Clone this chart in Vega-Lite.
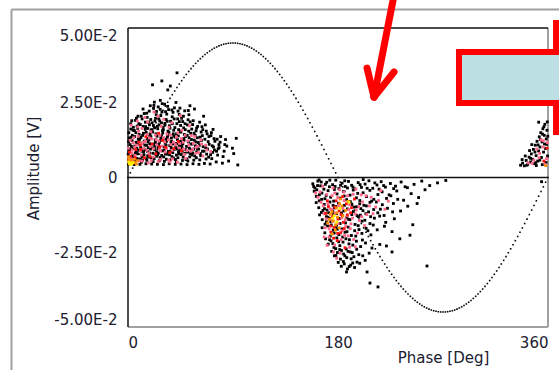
{
"$schema": "https://vega.github.io/schema/vega-lite/v6.json",
"autosize": {"type": "none"},
"padding": {"left": 128, "top": 28, "right": 11, "bottom": 43},
"width": 420,
"height": 299,
"background": "white",
"config": {"view": {"stroke": null}},
"encoding": {
  "x": {"field": "ph", "type": "quantitative", "scale": {"domain": [0, 360], "nice": false, "zero": false},
    "axis": {"values": [0, 180, 360], "title": "Phase [Deg]", "grid": false, "domain": false, "ticks": false, "tickSize": 0, "labelFlush": true, "labelPadding": 8, "labelFont": "DejaVu Sans", "labelFontSize": 15, "labelColor": "#202030", "titleFont": "DejaVu Sans", "titleFontSize": 15, "titleFontWeight": "normal", "titleColor": "#202030", "titleX": 315, "titleY": 30, "titleBaseline": "middle", "titleAlign": "center"}},
  "y": {"field": "amp", "type": "quantitative", "scale": {"domain": [-0.05, 0.05], "nice": false, "zero": false},
    "axis": {"values": [-0.05, -0.025, 0, 0.025, 0.05], "title": "Amplitude [V]", "grid": false, "domain": false, "ticks": false, "tickSize": 0, "labelFlush": true, "labelPadding": 11, "labelFont": "DejaVu Sans", "labelFontSize": 15, "labelColor": "#202030",
      "labelExpr": "datum.value == 0 ? '0' : (datum.value < 0 ? '-' : '') + (abs(datum.value) > 0.04 ? '5.00E-2' : '2.50E-2')",
      "titleFont": "DejaVu Sans", "titleFontSize": 15, "titleFontWeight": "normal", "titleColor": "#202030", "titleX": -95, "titleY": 140, "titleBaseline": "middle", "titleAlign": "center", "titleAngle": -90}}
},
"layer": [
  {
    "data": {"values": [
      {"ph": -99.86, "amp": 0.0562, "ph2": -99.86, "amp2": -0.07},
      {"ph": -99.86, "amp": 0.0562, "ph2": 385, "amp2": 0.0562},
      {"ph": 0, "amp": -0.05, "ph2": 360, "amp2": -0.05},
      {"ph": 360, "amp": 0.05, "ph2": 360, "amp2": -0.05}
    ]},
    "mark": {"type": "rule", "color": "#a0a0a0", "strokeWidth": 2},
    "encoding": {"x2": {"field": "ph2"}, "y2": {"field": "amp2"}}
  },
  {
    "data": {"values": [
      {"ph": 0, "amp": 0.05, "ph2": 360, "amp2": 0.05},
      {"ph": 0, "amp": 0.05, "ph2": 0, "amp2": -0.05},
      {"ph": 0, "amp": 0, "ph2": 360, "amp2": 0}
    ]},
    "mark": {"type": "rule", "color": "#111111", "strokeWidth": 1.5},
    "encoding": {"x2": {"field": "ph2"}, "y2": {"field": "amp2"}}
  },
  {
    "data": {"values": [
      {"ph":0,"amp":0},{"ph":2,"amp":0.00157},{"ph":4,"amp":0.00314},{"ph":6,"amp":0.0047},{"ph":8,"amp":0.00626},{"ph":10,"amp":0.00781},{"ph":12,"amp":0.00936},{"ph":14,"amp":0.01089},{"ph":16,"amp":0.0124},{"ph":18,"amp":0.01391},{"ph":20,"amp":0.01539},{"ph":22,"amp":0.01686},{"ph":24,"amp":0.0183},{"ph":26,"amp":0.01973},{"ph":28,"amp":0.02113},{"ph":30,"amp":0.0225},{"ph":32,"amp":0.02385},{"ph":34,"amp":0.02516},{"ph":36,"amp":0.02645},{"ph":38,"amp":0.0277},{"ph":40,"amp":0.02893},{"ph":42,"amp":0.03011},{"ph":44,"amp":0.03126},{"ph":46,"amp":0.03237},{"ph":48,"amp":0.03344},{"ph":50,"amp":0.03447},{"ph":52,"amp":0.03546},{"ph":54,"amp":0.03641},{"ph":56,"amp":0.03731},{"ph":58,"amp":0.03816},{"ph":60,"amp":0.03897},{"ph":62,"amp":0.03973},{"ph":64,"amp":0.04045},{"ph":66,"amp":0.04111},{"ph":68,"amp":0.04172},{"ph":70,"amp":0.04229},{"ph":72,"amp":0.0428},{"ph":74,"amp":0.04326},{"ph":76,"amp":0.04366},{"ph":78,"amp":0.04402},{"ph":80,"amp":0.04432},{"ph":82,"amp":0.04456},{"ph":84,"amp":0.04475},{"ph":86,"amp":0.04489},{"ph":88,"amp":0.04497},{"ph":90,"amp":0.045},
      {"ph":92,"amp":0.04497},{"ph":94,"amp":0.04489},{"ph":96,"amp":0.04475},{"ph":98,"amp":0.04456},{"ph":100,"amp":0.04432},{"ph":102,"amp":0.04402},{"ph":104,"amp":0.04366},{"ph":106,"amp":0.04326},{"ph":108,"amp":0.0428},{"ph":110,"amp":0.04229},{"ph":112,"amp":0.04172},{"ph":114,"amp":0.04111},{"ph":116,"amp":0.04045},{"ph":118,"amp":0.03973},{"ph":120,"amp":0.03897},{"ph":122,"amp":0.03816},{"ph":124,"amp":0.03731},{"ph":126,"amp":0.03641},{"ph":128,"amp":0.03546},{"ph":130,"amp":0.03447},{"ph":132,"amp":0.03344},{"ph":134,"amp":0.03237},{"ph":136,"amp":0.03126},{"ph":138,"amp":0.03011},{"ph":140,"amp":0.02893},{"ph":142,"amp":0.0277},{"ph":144,"amp":0.02645},{"ph":146,"amp":0.02516},{"ph":148,"amp":0.02385},{"ph":150,"amp":0.0225},{"ph":152,"amp":0.02113},{"ph":154,"amp":0.01973},{"ph":156,"amp":0.0183},{"ph":158,"amp":0.01686},{"ph":160,"amp":0.01539},{"ph":162,"amp":0.01391},{"ph":164,"amp":0.0124},{"ph":166,"amp":0.01089},{"ph":168,"amp":0.00936},{"ph":170,"amp":0.00781},{"ph":172,"amp":0.00626},{"ph":174,"amp":0.0047},{"ph":176,"amp":0.00314},{"ph":178,"amp":0.00157},{"ph":180,"amp":0},
      {"ph":182,"amp":-0.00157},{"ph":184,"amp":-0.00314},{"ph":186,"amp":-0.0047},{"ph":188,"amp":-0.00626},{"ph":190,"amp":-0.00781},{"ph":192,"amp":-0.00936},{"ph":194,"amp":-0.01089},{"ph":196,"amp":-0.0124},{"ph":198,"amp":-0.01391},{"ph":200,"amp":-0.01539},{"ph":202,"amp":-0.01686},{"ph":204,"amp":-0.0183},{"ph":206,"amp":-0.01973},{"ph":208,"amp":-0.02113},{"ph":210,"amp":-0.0225},{"ph":212,"amp":-0.02385},{"ph":214,"amp":-0.02516},{"ph":216,"amp":-0.02645},{"ph":218,"amp":-0.0277},{"ph":220,"amp":-0.02893},{"ph":222,"amp":-0.03011},{"ph":224,"amp":-0.03126},{"ph":226,"amp":-0.03237},{"ph":228,"amp":-0.03344},{"ph":230,"amp":-0.03447},{"ph":232,"amp":-0.03546},{"ph":234,"amp":-0.03641},{"ph":236,"amp":-0.03731},{"ph":238,"amp":-0.03816},{"ph":240,"amp":-0.03897},{"ph":242,"amp":-0.03973},{"ph":244,"amp":-0.04045},{"ph":246,"amp":-0.04111},{"ph":248,"amp":-0.04172},{"ph":250,"amp":-0.04229},{"ph":252,"amp":-0.0428},{"ph":254,"amp":-0.04326},{"ph":256,"amp":-0.04366},{"ph":258,"amp":-0.04402},{"ph":260,"amp":-0.04432},{"ph":262,"amp":-0.04456},{"ph":264,"amp":-0.04475},{"ph":266,"amp":-0.04489},{"ph":268,"amp":-0.04497},{"ph":270,"amp":-0.045},
      {"ph":272,"amp":-0.04497},{"ph":274,"amp":-0.04489},{"ph":276,"amp":-0.04475},{"ph":278,"amp":-0.04456},{"ph":280,"amp":-0.04432},{"ph":282,"amp":-0.04402},{"ph":284,"amp":-0.04366},{"ph":286,"amp":-0.04326},{"ph":288,"amp":-0.0428},{"ph":290,"amp":-0.04229},{"ph":292,"amp":-0.04172},{"ph":294,"amp":-0.04111},{"ph":296,"amp":-0.04045},{"ph":298,"amp":-0.03973},{"ph":300,"amp":-0.03897},{"ph":302,"amp":-0.03816},{"ph":304,"amp":-0.03731},{"ph":306,"amp":-0.03641},{"ph":308,"amp":-0.03546},{"ph":310,"amp":-0.03447},{"ph":312,"amp":-0.03344},{"ph":314,"amp":-0.03237},{"ph":316,"amp":-0.03126},{"ph":318,"amp":-0.03011},{"ph":320,"amp":-0.02893},{"ph":322,"amp":-0.0277},{"ph":324,"amp":-0.02645},{"ph":326,"amp":-0.02516},{"ph":328,"amp":-0.02385},{"ph":330,"amp":-0.0225},{"ph":332,"amp":-0.02113},{"ph":334,"amp":-0.01973},{"ph":336,"amp":-0.0183},{"ph":338,"amp":-0.01686},{"ph":340,"amp":-0.01539},{"ph":342,"amp":-0.01391},{"ph":344,"amp":-0.0124},{"ph":346,"amp":-0.01089},{"ph":348,"amp":-0.00936},{"ph":350,"amp":-0.00781},{"ph":352,"amp":-0.00626},{"ph":354,"amp":-0.0047},{"ph":356,"amp":-0.00314},{"ph":358,"amp":-0.00157},{"ph":360,"amp":0}
    ]},
    "mark": {"type": "square", "size": 2.5, "color": "#000000", "opacity": 1}
  },
  {
    "data": {"values": [
      {"ph":0.4,"amp":0.0045,"lvl":0},{"ph":1.2,"amp":0.0052,"lvl":0},{"ph":2.1,"amp":0.006,"lvl":0},{"ph":3.0,"amp":0.0071,"lvl":0},{"ph":0.9,"amp":0.0088,"lvl":0},{"ph":4.2,"amp":0.0097,"lvl":0},{"ph":1.8,"amp":0.011,"lvl":0},{"ph":3.5,"amp":0.0123,"lvl":0},{"ph":2.6,"amp":0.0135,"lvl":0},{"ph":0.7,"amp":0.015,"lvl":0},{"ph":4.6,"amp":0.0168,"lvl":0},{"ph":2.3,"amp":0.018,"lvl":0},{"ph":3.9,"amp":0.0047,"lvl":0},{"ph":4.8,"amp":0.0058,"lvl":0},{"ph":1.5,"amp":0.0066,"lvl":0},
      {"ph":5.3,"amp":0.0043,"lvl":0},{"ph":6.1,"amp":0.0055,"lvl":0},{"ph":7.4,"amp":0.0064,"lvl":0},{"ph":8.2,"amp":0.0079,"lvl":0},{"ph":9.1,"amp":0.0091,"lvl":0},{"ph":5.8,"amp":0.0105,"lvl":0},{"ph":6.9,"amp":0.0118,"lvl":0},{"ph":8.8,"amp":0.0129,"lvl":0},{"ph":9.6,"amp":0.0144,"lvl":0},{"ph":5.5,"amp":0.0157,"lvl":0},{"ph":7.8,"amp":0.0172,"lvl":0},{"ph":6.4,"amp":0.0191,"lvl":0},{"ph":8.5,"amp":0.0205,"lvl":0},{"ph":9.9,"amp":0.0062,"lvl":0},{"ph":7.1,"amp":0.0084,"lvl":0},
      {"ph":10.2,"amp":0.0044,"lvl":0},{"ph":11.5,"amp":0.0051,"lvl":0},{"ph":12.3,"amp":0.0069,"lvl":0},{"ph":13.7,"amp":0.0076,"lvl":0},{"ph":14.4,"amp":0.0093,"lvl":0},{"ph":10.9,"amp":0.0101,"lvl":0},{"ph":12.8,"amp":0.0116,"lvl":0},{"ph":11.1,"amp":0.0134,"lvl":0},{"ph":13.2,"amp":0.0148,"lvl":0},{"ph":14.8,"amp":0.0161,"lvl":0},{"ph":10.5,"amp":0.0177,"lvl":0},{"ph":12.1,"amp":0.0196,"lvl":0},{"ph":13.9,"amp":0.0214,"lvl":0},{"ph":11.8,"amp":0.0088,"lvl":0},{"ph":14.1,"amp":0.0122,"lvl":0},{"ph":12.6,"amp":0.0058,"lvl":0},
      {"ph":15.4,"amp":0.0046,"lvl":0},{"ph":16.2,"amp":0.0057,"lvl":0},{"ph":17.8,"amp":0.0068,"lvl":0},{"ph":18.5,"amp":0.0082,"lvl":0},{"ph":19.3,"amp":0.0095,"lvl":0},{"ph":15.9,"amp":0.0108,"lvl":0},{"ph":17.1,"amp":0.0119,"lvl":0},{"ph":16.7,"amp":0.0131,"lvl":0},{"ph":18.9,"amp":0.0146,"lvl":0},{"ph":19.8,"amp":0.0159,"lvl":0},{"ph":15.2,"amp":0.017,"lvl":0},{"ph":17.5,"amp":0.0185,"lvl":0},{"ph":16.4,"amp":0.0201,"lvl":0},{"ph":18.2,"amp":0.0222,"lvl":0},{"ph":19.1,"amp":0.024,"lvl":0},{"ph":16.9,"amp":0.0073,"lvl":0},{"ph":18.7,"amp":0.0113,"lvl":0},
      {"ph":20.3,"amp":0.0045,"lvl":0},{"ph":21.6,"amp":0.0053,"lvl":0},{"ph":22.4,"amp":0.0063,"lvl":0},{"ph":23.8,"amp":0.0077,"lvl":0},{"ph":24.5,"amp":0.0086,"lvl":0},{"ph":20.9,"amp":0.0099,"lvl":0},{"ph":22.1,"amp":0.0112,"lvl":0},{"ph":23.3,"amp":0.0126,"lvl":0},{"ph":24.9,"amp":0.0138,"lvl":0},{"ph":21.2,"amp":0.0152,"lvl":0},{"ph":22.8,"amp":0.0166,"lvl":0},{"ph":20.6,"amp":0.0183,"lvl":0},{"ph":23.6,"amp":0.0198,"lvl":0},{"ph":24.2,"amp":0.021,"lvl":0},{"ph":21.9,"amp":0.0231,"lvl":0},{"ph":22.6,"amp":0.0252,"lvl":0},{"ph":21.0,"amp":0.031,"lvl":0},{"ph":24.7,"amp":0.0071,"lvl":0},{"ph":23.0,"amp":0.0104,"lvl":0},
      {"ph":25.2,"amp":0.0044,"lvl":0},{"ph":26.8,"amp":0.0056,"lvl":0},{"ph":27.5,"amp":0.0067,"lvl":0},{"ph":28.9,"amp":0.0074,"lvl":0},{"ph":29.4,"amp":0.0089,"lvl":0},{"ph":25.7,"amp":0.0096,"lvl":0},{"ph":26.3,"amp":0.0111,"lvl":0},{"ph":27.9,"amp":0.0124,"lvl":0},{"ph":28.4,"amp":0.0137,"lvl":0},{"ph":29.8,"amp":0.0149,"lvl":0},{"ph":25.5,"amp":0.0163,"lvl":0},{"ph":26.6,"amp":0.0176,"lvl":0},{"ph":27.2,"amp":0.0189,"lvl":0},{"ph":28.1,"amp":0.0207,"lvl":0},{"ph":29.1,"amp":0.0219,"lvl":0},{"ph":25.9,"amp":0.0236,"lvl":0},{"ph":27.7,"amp":0.0258,"lvl":0},{"ph":29.0,"amp":0.0323,"lvl":0},{"ph":26.1,"amp":0.0082,"lvl":0},{"ph":28.6,"amp":0.0141,"lvl":0},
      {"ph":30.4,"amp":0.0043,"lvl":0},{"ph":31.2,"amp":0.0054,"lvl":0},{"ph":32.9,"amp":0.0061,"lvl":0},{"ph":33.5,"amp":0.0078,"lvl":0},{"ph":34.6,"amp":0.0087,"lvl":0},{"ph":30.8,"amp":0.0102,"lvl":0},{"ph":31.9,"amp":0.0115,"lvl":0},{"ph":32.4,"amp":0.0128,"lvl":0},{"ph":33.9,"amp":0.014,"lvl":0},{"ph":34.3,"amp":0.0155,"lvl":0},{"ph":30.1,"amp":0.0168,"lvl":0},{"ph":31.6,"amp":0.0181,"lvl":0},{"ph":32.7,"amp":0.0194,"lvl":0},{"ph":33.2,"amp":0.0212,"lvl":0},{"ph":34.8,"amp":0.0227,"lvl":0},{"ph":31.4,"amp":0.0245,"lvl":0},{"ph":32.1,"amp":0.0079,"lvl":0},{"ph":33.7,"amp":0.0133,"lvl":0},{"ph":34.1,"amp":0.0293,"lvl":0},
      {"ph":35.3,"amp":0.0046,"lvl":0},{"ph":36.1,"amp":0.0059,"lvl":0},{"ph":37.7,"amp":0.007,"lvl":0},{"ph":38.4,"amp":0.0083,"lvl":0},{"ph":39.5,"amp":0.0094,"lvl":0},{"ph":35.8,"amp":0.0107,"lvl":0},{"ph":36.9,"amp":0.0117,"lvl":0},{"ph":37.2,"amp":0.0132,"lvl":0},{"ph":38.8,"amp":0.0146,"lvl":0},{"ph":39.2,"amp":0.0158,"lvl":0},{"ph":35.5,"amp":0.0173,"lvl":0},{"ph":36.5,"amp":0.0188,"lvl":0},{"ph":37.9,"amp":0.0203,"lvl":0},{"ph":38.6,"amp":0.0218,"lvl":0},{"ph":39.8,"amp":0.0233,"lvl":0},{"ph":36.3,"amp":0.0306,"lvl":0},{"ph":39.0,"amp":0.0065,"lvl":0},{"ph":37.4,"amp":0.0121,"lvl":0},
      {"ph":40.5,"amp":0.0044,"lvl":0},{"ph":41.3,"amp":0.0052,"lvl":0},{"ph":42.8,"amp":0.0066,"lvl":0},{"ph":43.6,"amp":0.0079,"lvl":0},{"ph":44.2,"amp":0.0091,"lvl":0},{"ph":40.9,"amp":0.01,"lvl":0},{"ph":41.7,"amp":0.0114,"lvl":0},{"ph":42.3,"amp":0.0127,"lvl":0},{"ph":43.1,"amp":0.0139,"lvl":0},{"ph":44.7,"amp":0.0153,"lvl":0},{"ph":40.2,"amp":0.0167,"lvl":0},{"ph":41.9,"amp":0.018,"lvl":0},{"ph":42.6,"amp":0.0196,"lvl":0},{"ph":43.9,"amp":0.0211,"lvl":0},{"ph":44.5,"amp":0.0232,"lvl":0},{"ph":41.1,"amp":0.0251,"lvl":0},{"ph":42.0,"amp":0.035,"lvl":0},{"ph":43.3,"amp":0.0085,"lvl":0},
      {"ph":45.4,"amp":0.0045,"lvl":0},{"ph":46.7,"amp":0.0057,"lvl":0},{"ph":47.3,"amp":0.0068,"lvl":0},{"ph":48.8,"amp":0.0081,"lvl":0},{"ph":49.5,"amp":0.0093,"lvl":0},{"ph":45.9,"amp":0.0106,"lvl":0},{"ph":46.2,"amp":0.0118,"lvl":0},{"ph":47.8,"amp":0.013,"lvl":0},{"ph":48.3,"amp":0.0144,"lvl":0},{"ph":49.1,"amp":0.016,"lvl":0},{"ph":45.1,"amp":0.0174,"lvl":0},{"ph":46.9,"amp":0.0187,"lvl":0},{"ph":47.5,"amp":0.0205,"lvl":0},{"ph":48.6,"amp":0.0223,"lvl":0},{"ph":49.8,"amp":0.006,"lvl":0},{"ph":46.4,"amp":0.0099,"lvl":0},
      {"ph":50.6,"amp":0.0043,"lvl":0},{"ph":51.3,"amp":0.0055,"lvl":0},{"ph":52.9,"amp":0.0069,"lvl":0},{"ph":53.4,"amp":0.008,"lvl":0},{"ph":54.1,"amp":0.0092,"lvl":0},{"ph":50.2,"amp":0.0104,"lvl":0},{"ph":51.8,"amp":0.0119,"lvl":0},{"ph":52.4,"amp":0.0133,"lvl":0},{"ph":53.7,"amp":0.0148,"lvl":0},{"ph":54.6,"amp":0.0162,"lvl":0},{"ph":50.9,"amp":0.0176,"lvl":0},{"ph":51.5,"amp":0.0193,"lvl":0},{"ph":52.2,"amp":0.021,"lvl":0},{"ph":53.1,"amp":0.024,"lvl":0},{"ph":54.8,"amp":0.0075,"lvl":0},
      {"ph":55.7,"amp":0.0046,"lvl":0},{"ph":56.4,"amp":0.0058,"lvl":0},{"ph":57.2,"amp":0.0072,"lvl":0},{"ph":58.9,"amp":0.0086,"lvl":0},{"ph":59.3,"amp":0.0097,"lvl":0},{"ph":55.2,"amp":0.0112,"lvl":0},{"ph":56.8,"amp":0.0125,"lvl":0},{"ph":57.6,"amp":0.0141,"lvl":0},{"ph":58.3,"amp":0.0156,"lvl":0},{"ph":59.7,"amp":0.0171,"lvl":0},{"ph":55.9,"amp":0.019,"lvl":0},{"ph":57.0,"amp":0.0229,"lvl":0},{"ph":58.6,"amp":0.0066,"lvl":0},
      {"ph":60.8,"amp":0.0044,"lvl":0},{"ph":61.5,"amp":0.0059,"lvl":0},{"ph":62.3,"amp":0.0073,"lvl":0},{"ph":63.9,"amp":0.0088,"lvl":0},{"ph":64.4,"amp":0.0103,"lvl":0},{"ph":60.3,"amp":0.0117,"lvl":0},{"ph":61.9,"amp":0.0135,"lvl":0},{"ph":62.7,"amp":0.0152,"lvl":0},{"ph":63.4,"amp":0.017,"lvl":0},{"ph":64.8,"amp":0.0205,"lvl":0},{"ph":62.0,"amp":0.008,"lvl":0},
      {"ph":65.5,"amp":0.0047,"lvl":0},{"ph":66.9,"amp":0.0062,"lvl":0},{"ph":67.4,"amp":0.0078,"lvl":0},{"ph":68.2,"amp":0.0095,"lvl":0},{"ph":69.6,"amp":0.0111,"lvl":0},{"ph":65.9,"amp":0.0128,"lvl":0},{"ph":67.8,"amp":0.0146,"lvl":0},{"ph":66.3,"amp":0.0176,"lvl":0},{"ph":69.1,"amp":0.0068,"lvl":0},
      {"ph":70.4,"amp":0.0045,"lvl":0},{"ph":71.8,"amp":0.0063,"lvl":0},{"ph":72.6,"amp":0.0084,"lvl":0},{"ph":73.3,"amp":0.0102,"lvl":0},{"ph":74.5,"amp":0.0121,"lvl":0},{"ph":71.1,"amp":0.014,"lvl":0},{"ph":72.9,"amp":0.0161,"lvl":0},{"ph":74.1,"amp":0.0092,"lvl":0},
      {"ph":75.6,"amp":0.0052,"lvl":0},{"ph":76.8,"amp":0.0075,"lvl":0},{"ph":77.3,"amp":0.0096,"lvl":0},{"ph":78.9,"amp":0.0118,"lvl":0},{"ph":79.4,"amp":0.0137,"lvl":0},{"ph":77.9,"amp":0.011,"lvl":0},
      {"ph":80.9,"amp":0.0048,"lvl":0},{"ph":82.4,"amp":0.0088,"lvl":0},{"ph":83.6,"amp":0.0127,"lvl":0},{"ph":84.7,"amp":0.0105,"lvl":0},
      {"ph":86.2,"amp":0.0055,"lvl":0},{"ph":89.5,"amp":0.0098,"lvl":0},{"ph":92.8,"amp":0.0131,"lvl":0},{"ph":90.6,"amp":0.008,"lvl":0},{"ph":94.1,"amp":0.0042,"lvl":0},
      {"ph":0.2,"amp":0.0078,"lvl":0},{"ph":1.4,"amp":0.0095,"lvl":0},{"ph":2.9,"amp":0.0104,"lvl":0},{"ph":3.7,"amp":0.0141,"lvl":0},{"ph":4.4,"amp":0.0158,"lvl":0},{"ph":0.5,"amp":0.012,"lvl":0},{"ph":1.0,"amp":0.0132,"lvl":0},{"ph":2.4,"amp":0.0162,"lvl":0},{"ph":3.2,"amp":0.019,"lvl":0},{"ph":4.0,"amp":0.0073,"lvl":0},
      {"ph":5.1,"amp":0.0069,"lvl":0},{"ph":6.3,"amp":0.0082,"lvl":0},{"ph":7.6,"amp":0.0097,"lvl":0},{"ph":8.0,"amp":0.0112,"lvl":0},{"ph":9.4,"amp":0.0124,"lvl":0},{"ph":5.7,"amp":0.0137,"lvl":0},{"ph":6.7,"amp":0.015,"lvl":0},{"ph":8.3,"amp":0.0164,"lvl":0},{"ph":9.3,"amp":0.018,"lvl":0},{"ph":7.2,"amp":0.0198,"lvl":0},
      {"ph":10.7,"amp":0.006,"lvl":0},{"ph":11.9,"amp":0.0073,"lvl":0},{"ph":13.4,"amp":0.0085,"lvl":0},{"ph":14.6,"amp":0.0108,"lvl":0},{"ph":10.1,"amp":0.0129,"lvl":0},{"ph":12.5,"amp":0.0141,"lvl":0},{"ph":13.0,"amp":0.0171,"lvl":0},{"ph":14.9,"amp":0.0185,"lvl":0},{"ph":11.3,"amp":0.0205,"lvl":0},{"ph":12.9,"amp":0.0229,"lvl":0},
      {"ph":15.7,"amp":0.0063,"lvl":0},{"ph":16.6,"amp":0.0088,"lvl":0},{"ph":17.3,"amp":0.01,"lvl":0},{"ph":18.0,"amp":0.0126,"lvl":0},{"ph":19.6,"amp":0.0137,"lvl":0},{"ph":15.6,"amp":0.0151,"lvl":0},{"ph":17.0,"amp":0.0164,"lvl":0},{"ph":18.4,"amp":0.0176,"lvl":0},{"ph":19.5,"amp":0.0194,"lvl":0},{"ph":16.0,"amp":0.0215,"lvl":0},
      {"ph":20.1,"amp":0.0066,"lvl":0},{"ph":21.3,"amp":0.0081,"lvl":0},{"ph":22.9,"amp":0.0093,"lvl":0},{"ph":23.5,"amp":0.0117,"lvl":0},{"ph":24.0,"amp":0.0146,"lvl":0},{"ph":20.5,"amp":0.016,"lvl":0},{"ph":21.8,"amp":0.0174,"lvl":0},{"ph":23.1,"amp":0.0189,"lvl":0},{"ph":24.4,"amp":0.0221,"lvl":0},{"ph":22.2,"amp":0.0241,"lvl":0},
      {"ph":25.4,"amp":0.0077,"lvl":0},{"ph":26.0,"amp":0.0103,"lvl":0},{"ph":27.0,"amp":0.0118,"lvl":0},{"ph":28.2,"amp":0.013,"lvl":0},{"ph":29.6,"amp":0.0157,"lvl":0},{"ph":25.1,"amp":0.0171,"lvl":0},{"ph":26.4,"amp":0.0196,"lvl":0},{"ph":28.7,"amp":0.0183,"lvl":0},{"ph":27.6,"amp":0.0228,"lvl":0},{"ph":29.3,"amp":0.0247,"lvl":0},
      {"ph":30.6,"amp":0.0069,"lvl":0},{"ph":31.0,"amp":0.0091,"lvl":0},{"ph":32.6,"amp":0.0108,"lvl":0},{"ph":33.0,"amp":0.0121,"lvl":0},{"ph":34.4,"amp":0.0147,"lvl":0},{"ph":30.3,"amp":0.016,"lvl":0},{"ph":31.7,"amp":0.0175,"lvl":0},{"ph":33.6,"amp":0.0188,"lvl":0},{"ph":32.2,"amp":0.022,"lvl":0},{"ph":34.0,"amp":0.0238,"lvl":0},
      {"ph":35.6,"amp":0.0076,"lvl":0},{"ph":36.7,"amp":0.0089,"lvl":0},{"ph":37.0,"amp":0.01,"lvl":0},{"ph":38.2,"amp":0.0112,"lvl":0},{"ph":39.3,"amp":0.0139,"lvl":0},{"ph":35.1,"amp":0.0151,"lvl":0},{"ph":36.0,"amp":0.0165,"lvl":0},{"ph":38.0,"amp":0.018,"lvl":0},{"ph":39.6,"amp":0.0196,"lvl":0},{"ph":37.6,"amp":0.0226,"lvl":0},
      {"ph":40.7,"amp":0.006,"lvl":0},{"ph":41.5,"amp":0.0075,"lvl":0},{"ph":42.1,"amp":0.0095,"lvl":0},{"ph":43.8,"amp":0.0106,"lvl":0},{"ph":44.9,"amp":0.0121,"lvl":0},{"ph":40.4,"amp":0.0135,"lvl":0},{"ph":41.6,"amp":0.0146,"lvl":0},{"ph":43.4,"amp":0.016,"lvl":0},{"ph":44.0,"amp":0.0187,"lvl":0},{"ph":42.9,"amp":0.0222,"lvl":0},
      {"ph":45.6,"amp":0.0077,"lvl":0},{"ph":46.5,"amp":0.0088,"lvl":0},{"ph":47.0,"amp":0.0112,"lvl":0},{"ph":48.0,"amp":0.0124,"lvl":0},{"ph":49.3,"amp":0.0137,"lvl":0},{"ph":45.3,"amp":0.0152,"lvl":0},{"ph":47.7,"amp":0.0166,"lvl":0},{"ph":48.9,"amp":0.018,"lvl":0},{"ph":46.0,"amp":0.0198,"lvl":0},
      {"ph":50.4,"amp":0.0062,"lvl":0},{"ph":51.1,"amp":0.0085,"lvl":0},{"ph":52.6,"amp":0.0098,"lvl":0},{"ph":53.9,"amp":0.0112,"lvl":0},{"ph":54.4,"amp":0.0127,"lvl":0},{"ph":50.7,"amp":0.0141,"lvl":0},{"ph":52.0,"amp":0.0155,"lvl":0},{"ph":53.3,"amp":0.0186,"lvl":0},{"ph":51.7,"amp":0.0224,"lvl":0},
      {"ph":55.5,"amp":0.0082,"lvl":0},{"ph":56.2,"amp":0.0095,"lvl":0},{"ph":57.8,"amp":0.0106,"lvl":0},{"ph":58.1,"amp":0.0119,"lvl":0},{"ph":59.5,"amp":0.0133,"lvl":0},{"ph":56.6,"amp":0.0148,"lvl":0},{"ph":58.8,"amp":0.0165,"lvl":0},{"ph":55.4,"amp":0.0177,"lvl":0},
      {"ph":60.6,"amp":0.0095,"lvl":0},{"ph":61.2,"amp":0.0108,"lvl":0},{"ph":62.9,"amp":0.0124,"lvl":0},{"ph":63.7,"amp":0.014,"lvl":0},{"ph":64.1,"amp":0.016,"lvl":0},{"ph":61.4,"amp":0.0185,"lvl":0},
      {"ph":65.2,"amp":0.0088,"lvl":0},{"ph":66.6,"amp":0.01,"lvl":0},{"ph":68.7,"amp":0.012,"lvl":0},{"ph":69.4,"amp":0.0137,"lvl":0},{"ph":67.1,"amp":0.0155,"lvl":0},
      {"ph":70.8,"amp":0.0076,"lvl":0},{"ph":72.2,"amp":0.0106,"lvl":0},{"ph":73.8,"amp":0.013,"lvl":0},{"ph":71.5,"amp":0.015,"lvl":0},
      {"ph":75.9,"amp":0.0088,"lvl":0},{"ph":78.1,"amp":0.01,"lvl":0},{"ph":76.4,"amp":0.0128,"lvl":0},
      {"ph":81.5,"amp":0.007,"lvl":0},{"ph":83.0,"amp":0.011,"lvl":0},
      {"ph":336.5,"amp":0.0041,"lvl":0},{"ph":338.2,"amp":0.0048,"lvl":0},{"ph":339.7,"amp":0.0039,"lvl":0},{"ph":341.3,"amp":0.0057,"lvl":0},{"ph":342.6,"amp":0.0044,"lvl":0},{"ph":343.8,"amp":0.0068,"lvl":0},{"ph":344.9,"amp":0.0052,"lvl":0},{"ph":345.7,"amp":0.0079,"lvl":0},{"ph":346.8,"amp":0.0061,"lvl":0},{"ph":347.5,"amp":0.0094,"lvl":0},{"ph":348.3,"amp":0.0046,"lvl":0},{"ph":349.1,"amp":0.0108,"lvl":0},{"ph":349.8,"amp":0.0073,"lvl":0},{"ph":350.6,"amp":0.0121,"lvl":0},{"ph":351.2,"amp":0.0055,"lvl":0},{"ph":351.9,"amp":0.0089,"lvl":0},{"ph":352.5,"amp":0.0136,"lvl":0},{"ph":353.1,"amp":0.0102,"lvl":0},{"ph":353.8,"amp":0.015,"lvl":0},{"ph":354.4,"amp":0.0067,"lvl":0},{"ph":354.9,"amp":0.0119,"lvl":0},{"ph":355.6,"amp":0.0163,"lvl":0},{"ph":356.2,"amp":0.0085,"lvl":0},{"ph":356.8,"amp":0.0141,"lvl":0},{"ph":357.3,"amp":0.0178,"lvl":0},{"ph":357.9,"amp":0.0097,"lvl":0},{"ph":358.5,"amp":0.0129,"lvl":0},{"ph":359.1,"amp":0.0158,"lvl":0},{"ph":359.6,"amp":0.0072,"lvl":0},{"ph":352.0,"amp":0.0185,"lvl":0},{"ph":355.1,"amp":0.0043,"lvl":0},{"ph":358.2,"amp":0.005,"lvl":0},{"ph":340.5,"amp":0.0072,"lvl":0},{"ph":346.1,"amp":0.011,"lvl":0},{"ph":350.0,"amp":0.004,"lvl":0},{"ph":344.2,"amp":0.009,"lvl":0},{"ph":357.0,"amp":0.0112,"lvl":0},{"ph":359.4,"amp":0.0186,"lvl":0},{"ph":354.5,"amp":-0.0014,"lvl":0},
      {"ph":337.8,"amp":0.006,"lvl":0},{"ph":341.9,"amp":0.0041,"lvl":0},{"ph":345.1,"amp":0.0064,"lvl":0},{"ph":348.8,"amp":0.0085,"lvl":0},{"ph":351.5,"amp":0.0109,"lvl":0},{"ph":353.5,"amp":0.0127,"lvl":0},{"ph":355.3,"amp":0.0145,"lvl":0},{"ph":356.5,"amp":0.017,"lvl":0},{"ph":358.7,"amp":0.0111,"lvl":0},{"ph":359.8,"amp":0.0138,"lvl":0},{"ph":353.0,"amp":0.0058,"lvl":0},{"ph":349.5,"amp":0.005,"lvl":0},
      {"ph":158.4,"amp":-0.0021,"lvl":0},{"ph":160.2,"amp":-0.0035,"lvl":0},{"ph":162.7,"amp":-0.0012,"lvl":0},{"ph":165.1,"amp":-0.0028,"lvl":0},{"ph":167.9,"amp":-0.0039,"lvl":0},{"ph":170.3,"amp":-0.0016,"lvl":0},{"ph":172.6,"amp":-0.0031,"lvl":0},{"ph":175.4,"amp":-0.0024,"lvl":0},{"ph":178.1,"amp":-0.0009,"lvl":0},{"ph":180.8,"amp":-0.0037,"lvl":0},{"ph":183.5,"amp":-0.0019,"lvl":0},{"ph":186.2,"amp":-0.003,"lvl":0},{"ph":189.0,"amp":-0.0013,"lvl":0},{"ph":191.7,"amp":-0.0026,"lvl":0},{"ph":194.4,"amp":-0.0038,"lvl":0},{"ph":197.3,"amp":-0.0017,"lvl":0},{"ph":200.1,"amp":-0.0033,"lvl":0},{"ph":203.2,"amp":-0.0022,"lvl":0},{"ph":206.5,"amp":-0.0011,"lvl":0},{"ph":209.8,"amp":-0.0036,"lvl":0},{"ph":213.4,"amp":-0.0025,"lvl":0},{"ph":217.0,"amp":-0.0014,"lvl":0},{"ph":220.6,"amp":-0.0032,"lvl":0},{"ph":224.9,"amp":-0.002,"lvl":0},{"ph":229.3,"amp":-0.0029,"lvl":0},{"ph":234.1,"amp":-0.0015,"lvl":0},{"ph":239.5,"amp":-0.0034,"lvl":0},{"ph":245.2,"amp":-0.0023,"lvl":0},{"ph":251.8,"amp":-0.0012,"lvl":0},{"ph":258.6,"amp":-0.0027,"lvl":0},{"ph":265.3,"amp":-0.0018,"lvl":0},{"ph":272.4,"amp":-0.001,"lvl":0},{"ph":163.8,"amp":-0.0008,"lvl":0},{"ph":176.9,"amp":-0.004,"lvl":0},{"ph":188.1,"amp":-0.0035,"lvl":0},{"ph":201.6,"amp":-0.0007,"lvl":0},{"ph":215.2,"amp":-0.0039,"lvl":0},{"ph":227.7,"amp":-0.0037,"lvl":0},
      {"ph":159.6,"amp":-0.0046,"lvl":0},{"ph":161.4,"amp":-0.0063,"lvl":0},{"ph":163.9,"amp":-0.0078,"lvl":0},{"ph":166.2,"amp":-0.0052,"lvl":0},{"ph":168.8,"amp":-0.0071,"lvl":0},{"ph":171.5,"amp":-0.0044,"lvl":0},{"ph":173.7,"amp":-0.0066,"lvl":0},{"ph":176.3,"amp":-0.0079,"lvl":0},{"ph":179.2,"amp":-0.0055,"lvl":0},{"ph":181.9,"amp":-0.0069,"lvl":0},{"ph":184.6,"amp":-0.0047,"lvl":0},{"ph":187.4,"amp":-0.0074,"lvl":0},{"ph":190.3,"amp":-0.0059,"lvl":0},{"ph":193.1,"amp":-0.0042,"lvl":0},{"ph":195.8,"amp":-0.0068,"lvl":0},{"ph":198.7,"amp":-0.0077,"lvl":0},{"ph":201.5,"amp":-0.0051,"lvl":0},{"ph":204.4,"amp":-0.0064,"lvl":0},{"ph":207.3,"amp":-0.0043,"lvl":0},{"ph":210.7,"amp":-0.0073,"lvl":0},{"ph":214.2,"amp":-0.0057,"lvl":0},{"ph":217.8,"amp":-0.0048,"lvl":0},{"ph":221.6,"amp":-0.007,"lvl":0},{"ph":225.3,"amp":-0.0061,"lvl":0},{"ph":230.4,"amp":-0.0045,"lvl":0},{"ph":236.2,"amp":-0.0076,"lvl":0},{"ph":242.7,"amp":-0.0054,"lvl":0},{"ph":249.1,"amp":-0.0067,"lvl":0},{"ph":254.6,"amp":-0.0041,"lvl":0},{"ph":169.9,"amp":-0.006,"lvl":0},{"ph":185.3,"amp":-0.0062,"lvl":0},{"ph":196.9,"amp":-0.0053,"lvl":0},{"ph":208.9,"amp":-0.0079,"lvl":0},
      {"ph":161.3,"amp":-0.0084,"lvl":0},{"ph":163.5,"amp":-0.0101,"lvl":0},{"ph":165.8,"amp":-0.0117,"lvl":0},{"ph":168.2,"amp":-0.009,"lvl":0},{"ph":170.6,"amp":-0.0109,"lvl":0},{"ph":173.1,"amp":-0.0082,"lvl":0},{"ph":175.5,"amp":-0.0113,"lvl":0},{"ph":178.0,"amp":-0.0097,"lvl":0},{"ph":180.4,"amp":-0.0086,"lvl":0},{"ph":182.9,"amp":-0.0119,"lvl":0},{"ph":185.5,"amp":-0.0093,"lvl":0},{"ph":188.0,"amp":-0.0105,"lvl":0},{"ph":190.6,"amp":-0.0081,"lvl":0},{"ph":193.2,"amp":-0.0114,"lvl":0},{"ph":195.9,"amp":-0.0098,"lvl":0},{"ph":198.6,"amp":-0.0088,"lvl":0},{"ph":201.4,"amp":-0.0111,"lvl":0},{"ph":204.3,"amp":-0.0095,"lvl":0},{"ph":207.4,"amp":-0.0083,"lvl":0},{"ph":210.6,"amp":-0.0107,"lvl":0},{"ph":214.1,"amp":-0.0118,"lvl":0},{"ph":218.0,"amp":-0.0091,"lvl":0},{"ph":222.4,"amp":-0.0103,"lvl":0},{"ph":227.5,"amp":-0.0087,"lvl":0},{"ph":233.6,"amp":-0.0112,"lvl":0},{"ph":239.8,"amp":-0.0096,"lvl":0},{"ph":176.8,"amp":-0.0102,"lvl":0},{"ph":191.9,"amp":-0.0089,"lvl":0},
      {"ph":164.2,"amp":-0.0125,"lvl":0},{"ph":166.5,"amp":-0.0141,"lvl":0},{"ph":168.9,"amp":-0.0156,"lvl":0},{"ph":171.3,"amp":-0.0133,"lvl":0},{"ph":173.8,"amp":-0.0148,"lvl":0},{"ph":176.2,"amp":-0.0122,"lvl":0},{"ph":178.7,"amp":-0.0159,"lvl":0},{"ph":181.2,"amp":-0.0137,"lvl":0},{"ph":183.8,"amp":-0.0127,"lvl":0},{"ph":186.4,"amp":-0.0152,"lvl":0},{"ph":189.1,"amp":-0.014,"lvl":0},{"ph":191.8,"amp":-0.0124,"lvl":0},{"ph":194.6,"amp":-0.0157,"lvl":0},{"ph":197.5,"amp":-0.0131,"lvl":0},{"ph":200.6,"amp":-0.0146,"lvl":0},{"ph":203.9,"amp":-0.0121,"lvl":0},{"ph":207.4,"amp":-0.0154,"lvl":0},{"ph":211.2,"amp":-0.0136,"lvl":0},{"ph":215.7,"amp":-0.0129,"lvl":0},{"ph":220.9,"amp":-0.015,"lvl":0},{"ph":228.3,"amp":-0.0138,"lvl":0},{"ph":244.1,"amp":-0.0158,"lvl":0},{"ph":187.6,"amp":-0.0134,"lvl":0},{"ph":199.2,"amp":-0.0126,"lvl":0},
      {"ph":166.4,"amp":-0.0168,"lvl":0},{"ph":168.7,"amp":-0.0185,"lvl":0},{"ph":171.0,"amp":-0.0162,"lvl":0},{"ph":173.4,"amp":-0.0196,"lvl":0},{"ph":175.9,"amp":-0.0176,"lvl":0},{"ph":178.3,"amp":-0.0164,"lvl":0},{"ph":180.8,"amp":-0.0191,"lvl":0},{"ph":183.4,"amp":-0.0172,"lvl":0},{"ph":186.0,"amp":-0.0183,"lvl":0},{"ph":188.7,"amp":-0.0166,"lvl":0},{"ph":191.5,"amp":-0.0194,"lvl":0},{"ph":194.3,"amp":-0.0178,"lvl":0},{"ph":197.3,"amp":-0.0161,"lvl":0},{"ph":200.5,"amp":-0.0187,"lvl":0},{"ph":204.1,"amp":-0.017,"lvl":0},{"ph":208.2,"amp":-0.0192,"lvl":0},{"ph":213.6,"amp":-0.0175,"lvl":0},{"ph":219.8,"amp":-0.0163,"lvl":0},{"ph":226.3,"amp":-0.0181,"lvl":0},
      {"ph":169.3,"amp":-0.0205,"lvl":0},{"ph":171.6,"amp":-0.0223,"lvl":0},{"ph":174.0,"amp":-0.0212,"lvl":0},{"ph":176.5,"amp":-0.0234,"lvl":0},{"ph":179.0,"amp":-0.0202,"lvl":0},{"ph":181.6,"amp":-0.0228,"lvl":0},{"ph":184.3,"amp":-0.0216,"lvl":0},{"ph":187.0,"amp":-0.0239,"lvl":0},{"ph":189.8,"amp":-0.0208,"lvl":0},{"ph":192.7,"amp":-0.0226,"lvl":0},{"ph":195.8,"amp":-0.0213,"lvl":0},{"ph":199.4,"amp":-0.0231,"lvl":0},{"ph":203.6,"amp":-0.0219,"lvl":0},{"ph":209.1,"amp":-0.0236,"lvl":0},{"ph":215.8,"amp":-0.0224,"lvl":0},{"ph":183.0,"amp":-0.0244,"lvl":0},
      {"ph":174.6,"amp":-0.0247,"lvl":0},{"ph":176.9,"amp":-0.0262,"lvl":0},{"ph":179.5,"amp":-0.0251,"lvl":0},{"ph":182.1,"amp":-0.0273,"lvl":0},{"ph":184.8,"amp":-0.0256,"lvl":0},{"ph":187.5,"amp":-0.0268,"lvl":0},{"ph":190.4,"amp":-0.0249,"lvl":0},{"ph":193.6,"amp":-0.0265,"lvl":0},{"ph":197.8,"amp":-0.0258,"lvl":0},{"ph":203.3,"amp":-0.0277,"lvl":0},{"ph":206.7,"amp":-0.0253,"lvl":0},
      {"ph":180.2,"amp":-0.0284,"lvl":0},{"ph":182.8,"amp":-0.0297,"lvl":0},{"ph":185.4,"amp":-0.0289,"lvl":0},{"ph":188.1,"amp":-0.0306,"lvl":0},{"ph":190.9,"amp":-0.0293,"lvl":0},{"ph":194.2,"amp":-0.0301,"lvl":0},{"ph":198.6,"amp":-0.0287,"lvl":0},{"ph":187.3,"amp":-0.0316,"lvl":0},
      {"ph":207.4,"amp":-0.0353,"lvl":0},{"ph":214.3,"amp":-0.0366,"lvl":0},{"ph":256.3,"amp":-0.0296,"lvl":0},{"ph":241.7,"amp":-0.0193,"lvl":0},{"ph":226.3,"amp":-0.0249,"lvl":0},{"ph":204.9,"amp":-0.0316,"lvl":0},{"ph":196.3,"amp":-0.0283,"lvl":0},{"ph":233.0,"amp":-0.0205,"lvl":0},{"ph":221.5,"amp":-0.0229,"lvl":0},
      {"ph":159.1,"amp":-0.003,"lvl":0},{"ph":161.8,"amp":-0.0041,"lvl":0},{"ph":164.0,"amp":-0.0058,"lvl":0},{"ph":166.0,"amp":-0.0073,"lvl":0},{"ph":168.4,"amp":-0.0104,"lvl":0},{"ph":170.0,"amp":-0.0131,"lvl":0},{"ph":172.0,"amp":-0.0118,"lvl":0},{"ph":174.3,"amp":-0.0159,"lvl":0},{"ph":176.7,"amp":-0.0186,"lvl":0},{"ph":179.4,"amp":-0.0173,"lvl":0},{"ph":181.5,"amp":-0.0241,"lvl":0},{"ph":184.0,"amp":-0.0199,"lvl":0},{"ph":186.8,"amp":-0.0205,"lvl":0},{"ph":189.4,"amp":-0.0222,"lvl":0},{"ph":192.2,"amp":-0.0251,"lvl":0},{"ph":195.2,"amp":-0.0196,"lvl":0},{"ph":198.0,"amp":-0.0174,"lvl":0},{"ph":200.9,"amp":-0.0209,"lvl":0},{"ph":203.0,"amp":-0.0143,"lvl":0},{"ph":205.6,"amp":-0.0178,"lvl":0},{"ph":208.0,"amp":-0.0131,"lvl":0},{"ph":210.2,"amp":-0.0159,"lvl":0},{"ph":212.9,"amp":-0.0082,"lvl":0},{"ph":216.3,"amp":-0.0106,"lvl":0},{"ph":219.5,"amp":-0.0127,"lvl":0},{"ph":223.8,"amp":-0.0058,"lvl":0},{"ph":226.8,"amp":-0.0115,"lvl":0},{"ph":231.2,"amp":-0.0073,"lvl":0},{"ph":237.5,"amp":-0.0031,"lvl":0},{"ph":247.8,"amp":-0.0087,"lvl":0},
      {"ph":162.5,"amp":-0.0027,"lvl":0},{"ph":165.6,"amp":-0.0015,"lvl":0},{"ph":169.2,"amp":-0.0023,"lvl":0},{"ph":173.0,"amp":-0.0009,"lvl":0},{"ph":177.5,"amp":-0.003,"lvl":0},{"ph":182.2,"amp":-0.0026,"lvl":0},{"ph":185.8,"amp":-0.0011,"lvl":0},{"ph":192.8,"amp":-0.0032,"lvl":0},{"ph":198.9,"amp":-0.0024,"lvl":0},{"ph":205.0,"amp":-0.0036,"lvl":0},{"ph":211.6,"amp":-0.0018,"lvl":0},{"ph":219.1,"amp":-0.0027,"lvl":0},
      {"ph":167.1,"amp":-0.011,"lvl":0},{"ph":170.1,"amp":-0.0148,"lvl":0},{"ph":172.9,"amp":-0.0137,"lvl":0},{"ph":175.8,"amp":-0.0093,"lvl":0},{"ph":178.8,"amp":-0.0121,"lvl":0},{"ph":181.8,"amp":-0.0154,"lvl":0},{"ph":184.9,"amp":-0.0112,"lvl":0},{"ph":187.7,"amp":-0.0181,"lvl":0},{"ph":190.2,"amp":-0.0141,"lvl":0},{"ph":193.8,"amp":-0.0099,"lvl":0},{"ph":196.4,"amp":-0.0128,"lvl":0},{"ph":199.6,"amp":-0.0104,"lvl":0},{"ph":202.2,"amp":-0.0093,"lvl":0},{"ph":206.2,"amp":-0.0115,"lvl":0},
      {"ph":172.8,"amp":-0.0208,"lvl":0},{"ph":175.6,"amp":-0.0221,"lvl":0},{"ph":178.1,"amp":-0.0238,"lvl":0},{"ph":180.6,"amp":-0.0215,"lvl":0},{"ph":185.9,"amp":-0.0262,"lvl":0},{"ph":188.6,"amp":-0.0247,"lvl":0},{"ph":191.3,"amp":-0.0272,"lvl":0},{"ph":196.0,"amp":-0.024,"lvl":0},{"ph":201.2,"amp":-0.0262,"lvl":0},{"ph":184.6,"amp":-0.0281,"lvl":0},{"ph":189.6,"amp":-0.0298,"lvl":0},{"ph":178.2,"amp":-0.0261,"lvl":0},{"ph":192.6,"amp":-0.0286,"lvl":0},
      {"ph":1.6,"amp":0.0064,"lvl":1},{"ph":3.3,"amp":0.0082,"lvl":1},{"ph":5.9,"amp":0.0102,"lvl":1},{"ph":8.7,"amp":0.0139,"lvl":1},{"ph":11.4,"amp":0.0075,"lvl":1},{"ph":13.2,"amp":0.0118,"lvl":1},{"ph":16.1,"amp":0.0091,"lvl":1},{"ph":19.6,"amp":0.0153,"lvl":1},{"ph":21.4,"amp":0.0068,"lvl":1},{"ph":24.1,"amp":0.0127,"lvl":1},{"ph":26.9,"amp":0.0096,"lvl":1},{"ph":28.5,"amp":0.0171,"lvl":1},{"ph":31.8,"amp":0.0085,"lvl":1},{"ph":33.4,"amp":0.0145,"lvl":1},{"ph":36.7,"amp":0.011,"lvl":1},{"ph":38.1,"amp":0.0062,"lvl":1},{"ph":41.5,"amp":0.0135,"lvl":1},{"ph":43.7,"amp":0.0099,"lvl":1},{"ph":46.1,"amp":0.0158,"lvl":1},{"ph":48.4,"amp":0.0077,"lvl":1},{"ph":51.2,"amp":0.0122,"lvl":1},{"ph":53.9,"amp":0.0088,"lvl":1},{"ph":57.3,"amp":0.0137,"lvl":1},{"ph":59.9,"amp":0.0105,"lvl":1},{"ph":62.4,"amp":0.0126,"lvl":1},{"ph":64.2,"amp":0.0072,"lvl":1},{"ph":2.7,"amp":0.0175,"lvl":1},{"ph":7.9,"amp":0.0189,"lvl":1},{"ph":14.6,"amp":0.0201,"lvl":1},{"ph":22.3,"amp":0.0219,"lvl":1},{"ph":30.7,"amp":0.0195,"lvl":1},{"ph":37.5,"amp":0.0183,"lvl":1},{"ph":44.9,"amp":0.0207,"lvl":1},{"ph":9.8,"amp":0.0056,"lvl":1},{"ph":17.4,"amp":0.0049,"lvl":1},{"ph":25.8,"amp":0.0053,"lvl":1},{"ph":34.9,"amp":0.0058,"lvl":1},{"ph":42.4,"amp":0.0051,"lvl":1},{"ph":49.6,"amp":0.0064,"lvl":1},{"ph":55.4,"amp":0.0095,"lvl":1},{"ph":4.4,"amp":0.0116,"lvl":1},{"ph":12.0,"amp":0.0164,"lvl":1},{"ph":18.3,"amp":0.0132,"lvl":1},{"ph":27.4,"amp":0.0141,"lvl":1},{"ph":35.1,"amp":0.0168,"lvl":1},{"ph":47.2,"amp":0.0118,"lvl":1},{"ph":52.7,"amp":0.0173,"lvl":1},{"ph":58.1,"amp":0.0081,"lvl":1},{"ph":66.5,"amp":0.0108,"lvl":1},{"ph":70.9,"amp":0.0087,"lvl":1},
      {"ph":0.3,"amp":0.0098,"lvl":1},{"ph":1.9,"amp":0.0124,"lvl":1},{"ph":3.6,"amp":0.0092,"lvl":1},{"ph":5.0,"amp":0.0133,"lvl":1},{"ph":6.0,"amp":0.0074,"lvl":1},{"ph":7.5,"amp":0.0108,"lvl":1},{"ph":9.0,"amp":0.0155,"lvl":1},{"ph":10.6,"amp":0.0089,"lvl":1},{"ph":11.7,"amp":0.0112,"lvl":1},{"ph":13.6,"amp":0.0098,"lvl":1},{"ph":15.0,"amp":0.0121,"lvl":1},{"ph":16.3,"amp":0.0143,"lvl":1},{"ph":17.9,"amp":0.0081,"lvl":1},{"ph":19.0,"amp":0.0104,"lvl":1},{"ph":20.2,"amp":0.0129,"lvl":1},{"ph":21.7,"amp":0.0096,"lvl":1},{"ph":23.4,"amp":0.0142,"lvl":1},{"ph":24.8,"amp":0.0109,"lvl":1},{"ph":26.5,"amp":0.0122,"lvl":1},{"ph":27.8,"amp":0.0088,"lvl":1},{"ph":29.2,"amp":0.0105,"lvl":1},{"ph":30.5,"amp":0.0133,"lvl":1},{"ph":31.5,"amp":0.0119,"lvl":1},{"ph":33.1,"amp":0.0097,"lvl":1},{"ph":34.7,"amp":0.0126,"lvl":1},{"ph":36.4,"amp":0.0142,"lvl":1},{"ph":37.8,"amp":0.0091,"lvl":1},{"ph":38.9,"amp":0.0118,"lvl":1},{"ph":40.6,"amp":0.011,"lvl":1},{"ph":42.7,"amp":0.0149,"lvl":1},{"ph":44.3,"amp":0.0114,"lvl":1},{"ph":45.7,"amp":0.013,"lvl":1},{"ph":47.6,"amp":0.0095,"lvl":1},{"ph":49.0,"amp":0.0141,"lvl":1},{"ph":50.5,"amp":0.009,"lvl":1},{"ph":52.1,"amp":0.0108,"lvl":1},{"ph":54.3,"amp":0.014,"lvl":1},{"ph":56.0,"amp":0.0114,"lvl":1},{"ph":58.5,"amp":0.0101,"lvl":1},{"ph":60.5,"amp":0.0083,"lvl":1},{"ph":63.1,"amp":0.0112,"lvl":1},{"ph":67.6,"amp":0.0092,"lvl":1},{"ph":3.9,"amp":0.0061,"lvl":1},{"ph":12.2,"amp":0.0055,"lvl":1},{"ph":19.9,"amp":0.0057,"lvl":1},{"ph":28.0,"amp":0.006,"lvl":1},{"ph":36.0,"amp":0.0052,"lvl":1},{"ph":8.4,"amp":0.0169,"lvl":1},{"ph":16.8,"amp":0.0186,"lvl":1},{"ph":25.6,"amp":0.0205,"lvl":1},
      {"ph":347.9,"amp":0.0058,"lvl":1},{"ph":352.8,"amp":0.0081,"lvl":1},{"ph":355.9,"amp":0.0102,"lvl":1},{"ph":358.8,"amp":0.0063,"lvl":1},{"ph":350.3,"amp":0.0095,"lvl":1},{"ph":354.0,"amp":0.0126,"lvl":1},{"ph":357.6,"amp":0.0044,"lvl":1},{"ph":343.1,"amp":0.0049,"lvl":1},{"ph":356.0,"amp":0.0123,"lvl":1},{"ph":352.3,"amp":0.0066,"lvl":1},{"ph":359.5,"amp":0.0117,"lvl":1},{"ph":346.5,"amp":0.0047,"lvl":1},
      {"ph":164.5,"amp":-0.0048,"lvl":1},{"ph":167.3,"amp":-0.0095,"lvl":1},{"ph":169.8,"amp":-0.0138,"lvl":1},{"ph":172.4,"amp":-0.0172,"lvl":1},{"ph":174.9,"amp":-0.0061,"lvl":1},{"ph":177.6,"amp":-0.0119,"lvl":1},{"ph":180.1,"amp":-0.0154,"lvl":1},{"ph":182.7,"amp":-0.0208,"lvl":1},{"ph":185.2,"amp":-0.0077,"lvl":1},{"ph":187.9,"amp":-0.0128,"lvl":1},{"ph":190.5,"amp":-0.0171,"lvl":1},{"ph":193.0,"amp":-0.0056,"lvl":1},{"ph":195.6,"amp":-0.0109,"lvl":1},{"ph":198.3,"amp":-0.0144,"lvl":1},{"ph":201.0,"amp":-0.0082,"lvl":1},{"ph":204.7,"amp":-0.0124,"lvl":1},{"ph":208.4,"amp":-0.0066,"lvl":1},{"ph":212.3,"amp":-0.0099,"lvl":1},{"ph":170.7,"amp":-0.0227,"lvl":1},{"ph":176.1,"amp":-0.0249,"lvl":1},{"ph":179.8,"amp":-0.0067,"lvl":1},{"ph":184.1,"amp":-0.0103,"lvl":1},{"ph":188.8,"amp":-0.0195,"lvl":1},{"ph":192.4,"amp":-0.0136,"lvl":1},{"ph":196.7,"amp":-0.0186,"lvl":1},{"ph":166.9,"amp":-0.0029,"lvl":1},{"ph":173.2,"amp":-0.0105,"lvl":1},{"ph":181.4,"amp":-0.0041,"lvl":1},{"ph":186.7,"amp":-0.0163,"lvl":1},{"ph":199.9,"amp":-0.0058,"lvl":1},{"ph":216.6,"amp":-0.0044,"lvl":1},{"ph":223.1,"amp":-0.0079,"lvl":1},{"ph":178.9,"amp":-0.027,"lvl":1},{"ph":194.9,"amp":-0.0232,"lvl":1},{"ph":183.2,"amp":-0.0135,"lvl":1},{"ph":202.8,"amp":-0.0161,"lvl":1},{"ph":160.8,"amp":-0.0052,"lvl":1},{"ph":168.1,"amp":-0.0199,"lvl":1},{"ph":175.3,"amp":-0.0147,"lvl":1},{"ph":190.0,"amp":-0.0091,"lvl":1},
      {"ph":162.9,"amp":-0.0066,"lvl":1},{"ph":165.4,"amp":-0.0083,"lvl":1},{"ph":168.0,"amp":-0.0121,"lvl":1},{"ph":171.4,"amp":-0.0088,"lvl":1},{"ph":174.4,"amp":-0.0138,"lvl":1},{"ph":177.2,"amp":-0.0052,"lvl":1},{"ph":180.5,"amp":-0.0095,"lvl":1},{"ph":183.6,"amp":-0.0178,"lvl":1},{"ph":186.2,"amp":-0.0141,"lvl":1},{"ph":189.2,"amp":-0.0107,"lvl":1},{"ph":191.1,"amp":-0.0155,"lvl":1},{"ph":194.7,"amp":-0.0122,"lvl":1},{"ph":197.9,"amp":-0.0098,"lvl":1},{"ph":200.3,"amp":-0.0131,"lvl":1},{"ph":206.9,"amp":-0.0095,"lvl":1},{"ph":210.0,"amp":-0.0121,"lvl":1},{"ph":214.8,"amp":-0.0077,"lvl":1},{"ph":220.2,"amp":-0.0106,"lvl":1},{"ph":172.3,"amp":-0.0199,"lvl":1},{"ph":177.1,"amp":-0.0226,"lvl":1},{"ph":181.9,"amp":-0.0253,"lvl":1},{"ph":185.7,"amp":-0.0194,"lvl":1},{"ph":189.9,"amp":-0.0233,"lvl":1},{"ph":193.4,"amp":-0.0207,"lvl":1},{"ph":170.4,"amp":-0.0057,"lvl":1},{"ph":175.7,"amp":-0.0035,"lvl":1},{"ph":185.0,"amp":-0.0049,"lvl":1},{"ph":195.3,"amp":-0.0039,"lvl":1},{"ph":204.0,"amp":-0.0061,"lvl":1},{"ph":169.0,"amp":-0.0168,"lvl":1},{"ph":174.8,"amp":-0.0107,"lvl":1},{"ph":188.3,"amp":-0.0061,"lvl":1},
      {"ph":0.8,"amp":0.0058,"lvl":2},{"ph":2.2,"amp":0.0071,"lvl":2},{"ph":4.9,"amp":0.0049,"lvl":2},{"ph":6.6,"amp":0.0093,"lvl":2},{"ph":10.4,"amp":0.0108,"lvl":2},{"ph":15.3,"amp":0.0136,"lvl":2},{"ph":20.7,"amp":0.0112,"lvl":2},{"ph":23.9,"amp":0.0079,"lvl":2},{"ph":29.6,"amp":0.0124,"lvl":2},{"ph":32.3,"amp":0.0101,"lvl":2},{"ph":39.4,"amp":0.0097,"lvl":2},{"ph":45.8,"amp":0.0089,"lvl":2},{"ph":14.1,"amp":0.0066,"lvl":2},{"ph":26.2,"amp":0.0148,"lvl":2},
      {"ph":1.3,"amp":0.0085,"lvl":2},{"ph":6.2,"amp":0.0066,"lvl":2},{"ph":11.0,"amp":0.0094,"lvl":2},{"ph":18.6,"amp":0.0071,"lvl":2},{"ph":27.1,"amp":0.0102,"lvl":2},{"ph":35.9,"amp":0.0083,"lvl":2},{"ph":43.0,"amp":0.012,"lvl":2},{"ph":9.5,"amp":0.0118,"lvl":2},
      {"ph":356.5,"amp":0.0055,"lvl":2},{"ph":359.2,"amp":0.0098,"lvl":2},
      {"ph":171.8,"amp":-0.0097,"lvl":2},{"ph":175.0,"amp":-0.0131,"lvl":2},{"ph":178.4,"amp":-0.0078,"lvl":2},{"ph":181.0,"amp":-0.0112,"lvl":2},{"ph":184.6,"amp":-0.015,"lvl":2},{"ph":187.2,"amp":-0.0088,"lvl":2},{"ph":173.9,"amp":-0.0183,"lvl":2},{"ph":179.3,"amp":-0.0211,"lvl":2},{"ph":183.9,"amp":-0.0064,"lvl":2},{"ph":190.8,"amp":-0.0118,"lvl":2},{"ph":169.5,"amp":-0.012,"lvl":2},{"ph":176.6,"amp":-0.0167,"lvl":2},{"ph":182.3,"amp":-0.0185,"lvl":2},{"ph":186.0,"amp":-0.0235,"lvl":2},{"ph":194.1,"amp":-0.0072,"lvl":2},
      {"ph":170.9,"amp":-0.0078,"lvl":2},{"ph":173.6,"amp":-0.0162,"lvl":2},{"ph":177.3,"amp":-0.0099,"lvl":2},{"ph":180.0,"amp":-0.0139,"lvl":2},{"ph":182.6,"amp":-0.0124,"lvl":2},{"ph":185.3,"amp":-0.0171,"lvl":2},{"ph":188.0,"amp":-0.0125,"lvl":2},{"ph":176.2,"amp":-0.0203,"lvl":2},{"ph":191.6,"amp":-0.0101,"lvl":2},{"ph":179.7,"amp":-0.0187,"lvl":2},
      {"ph":1.1,"amp":0.0047,"lvl":3},{"ph":3.0,"amp":0.0053,"lvl":3},{"ph":5.4,"amp":0.0061,"lvl":3},{"ph":7.2,"amp":0.0045,"lvl":3},{"ph":0.4,"amp":0.0069,"lvl":3},{"ph":358.0,"amp":0.004,"lvl":3},
      {"ph":2.5,"amp":0.0058,"lvl":3},{"ph":6.0,"amp":0.005,"lvl":3},{"ph":8.1,"amp":0.0056,"lvl":3},{"ph":0.9,"amp":0.0062,"lvl":3},
      {"ph":173.5,"amp":-0.0123,"lvl":3},{"ph":176.0,"amp":-0.0145,"lvl":3},{"ph":178.6,"amp":-0.0102,"lvl":3},{"ph":180.9,"amp":-0.0168,"lvl":3},{"ph":175.1,"amp":-0.0189,"lvl":3},{"ph":183.3,"amp":-0.0095,"lvl":3},{"ph":171.2,"amp":-0.0152,"lvl":3},{"ph":177.7,"amp":-0.0176,"lvl":3},{"ph":186.5,"amp":-0.011,"lvl":3},{"ph":179.6,"amp":-0.0133,"lvl":3},{"ph":182.0,"amp":-0.0072,"lvl":3},{"ph":188.4,"amp":-0.008,"lvl":3},
      {"ph":174.7,"amp":-0.0115,"lvl":3},{"ph":177.9,"amp":-0.0159,"lvl":3},{"ph":181.4,"amp":-0.0087,"lvl":3},{"ph":184.2,"amp":-0.0128,"lvl":3},{"ph":172.6,"amp":-0.014,"lvl":3},{"ph":179.1,"amp":-0.0118,"lvl":3},
      {"ph":2.0,"amp":0.0044,"lvl":4},{"ph":4.1,"amp":0.005,"lvl":4},{"ph":0.6,"amp":0.0052,"lvl":4},{"ph":1.4,"amp":0.0047,"lvl":4},{"ph":3.4,"amp":0.0046,"lvl":4},
      {"ph":178.9,"amp":-0.0149,"lvl":4},{"ph":189.5,"amp":-0.0082,"lvl":4},{"ph":176.8,"amp":-0.0128,"lvl":4},{"ph":175.4,"amp":-0.0136,"lvl":4},{"ph":181.7,"amp":-0.0104,"lvl":4}
    ]},
    "mark": {"type": "square", "size": 8, "opacity": 1},
    "encoding": {"color": {"field": "lvl", "type": "ordinal", "scale": {"domain": [0, 1, 2, 3, 4], "range": ["#000000", "#ff6688", "#ff1010", "#ff8c00", "#ffee00"]}, "legend": null}}
  },
  {
    "data": {"values": [
      {"ph": 283.7, "amp": 0.04197, "ph2": 400, "amp2": 0.02492}
    ]},
    "mark": {"type": "rect", "fill": "#bce0e3", "stroke": "#ff0000", "strokeWidth": 6},
    "encoding": {"x2": {"field": "ph2"}, "y2": {"field": "amp2"}}
  },
  {
    "data": {"values": [
      {"ph": 366.9, "amp": 0.05268, "ph2": 366.9, "amp2": 0.04197},
      {"ph": 366.9, "amp": 0.02492, "ph2": 366.9, "amp2": 0.01421}
    ]},
    "mark": {"type": "rule", "color": "#ff0000", "strokeWidth": 6},
    "encoding": {"x2": {"field": "ph2"}, "y2": {"field": "amp2"}}
  },
  {
    "data": {"values": [
      {"ph": 228.9, "amp": 0.0627, "ph2": 210.9, "amp2": 0.0269},
      {"ph": 210.9, "amp": 0.0269, "ph2": 204.9, "amp2": 0.0366},
      {"ph": 210.9, "amp": 0.0269, "ph2": 228.0, "amp2": 0.0353}
    ]},
    "mark": {"type": "rule", "color": "#ff0000", "strokeWidth": 7, "strokeCap": "round"},
    "encoding": {"x2": {"field": "ph2"}, "y2": {"field": "amp2"}}
  }
]
}
